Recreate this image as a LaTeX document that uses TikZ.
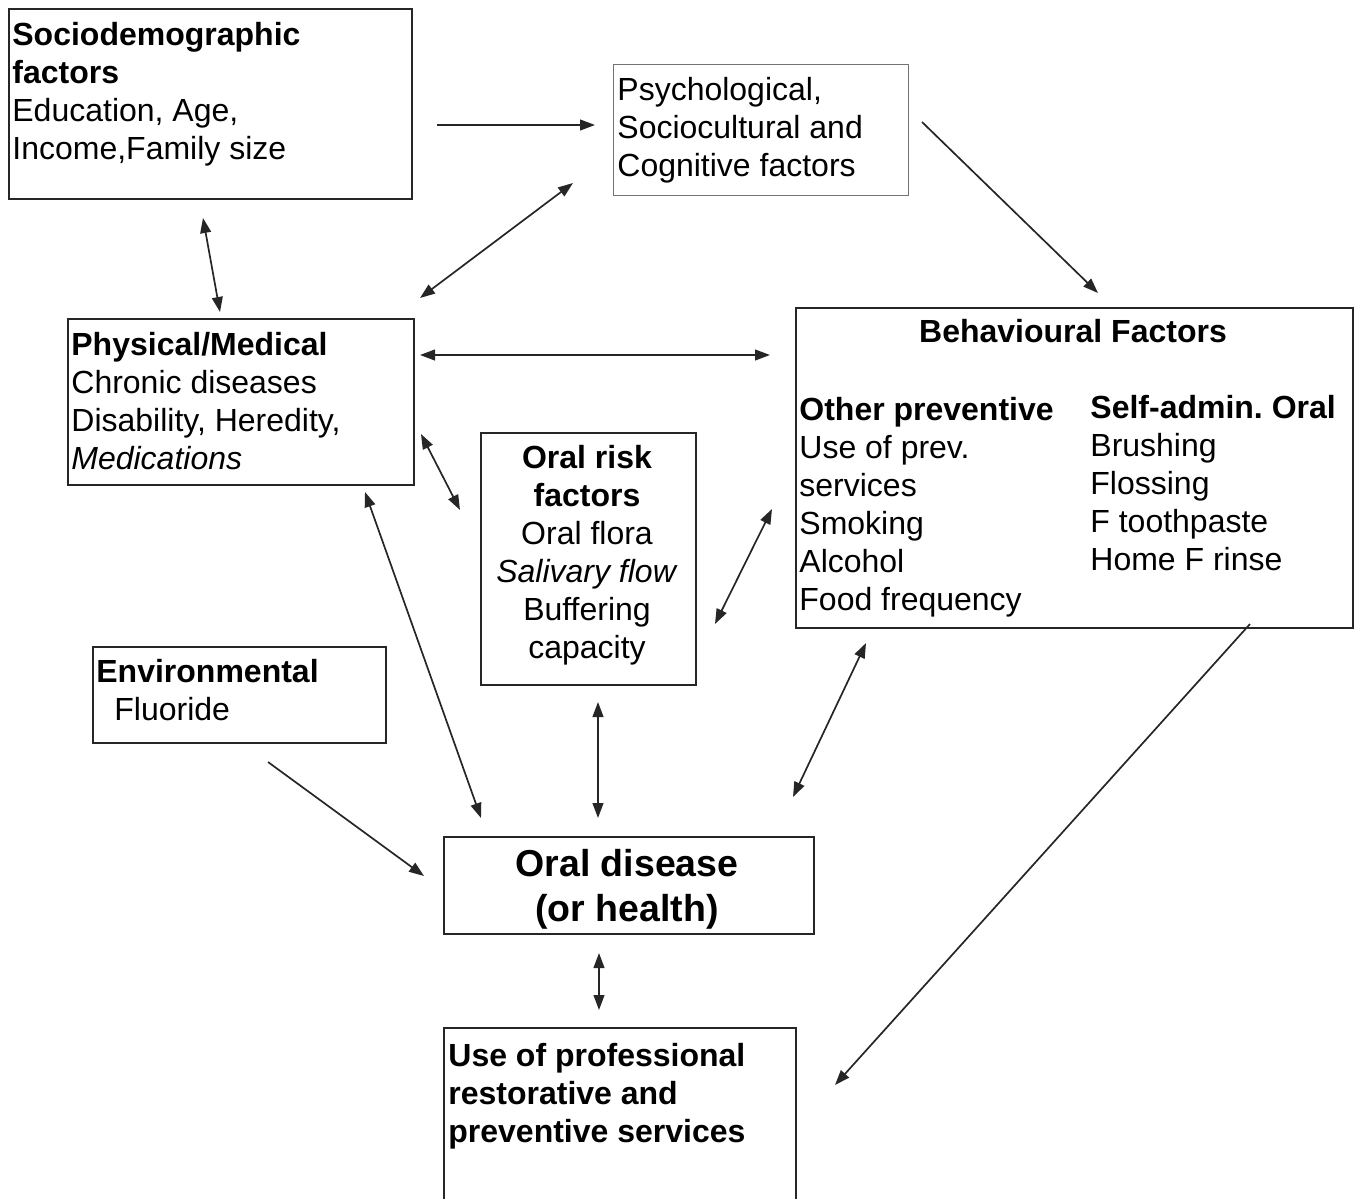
\documentclass[tikz,border=0pt]{standalone}
\usepackage{fontspec}
\setmainfont{Liberation Sans}
\usetikzlibrary{arrows.meta}
\tikzset{
  box/.style={draw=black!85, line width=1pt, inner sep=0pt, anchor=north west},
  lightbox/.style={draw=black!55, line width=0.6pt, inner sep=0pt, anchor=north west},
  txt/.style={inner sep=0pt, anchor=north west, align=left, font=\fontsize{16}{19}\selectfont},
  ctxt/.style={inner sep=0pt, anchor=north, align=center, font=\fontsize{16}{19}\selectfont},
  conn/.style={line width=0.85pt, black!85},
  one/.style={conn, -{Triangle[length=7.5pt,width=5.4pt]}},
  two/.style={conn, {Triangle[length=7.5pt,width=5.4pt]}-{Triangle[length=7.5pt,width=5.4pt]}},
}
\begin{document}
\begin{tikzpicture}[x=0.5pt,y=-0.5pt]
\useasboundingbox (0,0) rectangle (1355,1199);
% boxes
\node[box, minimum width=201.5pt, minimum height=95pt] (socio) at (8,8) {};
\node[lightbox, minimum width=147.5pt, minimum height=65.5pt] (psych) at (613,64) {};
\node[box, minimum width=173pt, minimum height=83pt] (phys) at (67,318) {};
\node[box, minimum width=278.5pt, minimum height=160pt] (behav) at (795,307) {};
\node[box, minimum width=107.5pt, minimum height=126pt] (risk) at (480,432) {};
\node[box, minimum width=146.5pt, minimum height=48pt] (env) at (92,646) {};
\node[box, minimum width=185pt, minimum height=48.5pt] (disease) at (443,836) {};
\node[inner sep=0pt, anchor=north west, minimum width=175.5pt, minimum height=90pt] (use) at (444,1028) {};
\draw[line width=1pt, black!85] (use.south west) -- (use.north west) -- (use.north east) -- (use.south east);
% texts
\node[txt] (sociot) at (12,18.4) {\strut\textbf{Sociodemographic}\\\strut\textbf{factors}\\\strut Education, Age,\\\strut Income,Family size};
\node[txt] (psycht) at (617,73.4) {\strut Psychological,\\\strut Sociocultural and\\\strut Cognitive factors};
\node[txt] (physt) at (71,328.4) {\strut\textbf{Physical/Medical}\\\strut Chronic diseases\\\strut Disability, Heredity,\\\strut\textit{Medications}};
\node[inner sep=0pt, anchor=base, font=\fontsize{16}{19}\selectfont\bfseries] (behavt) at (1073,342) {Behavioural Factors};
\node[txt] (behav1) at (799,393.4) {\strut\textbf{Other preventive}\\\strut Use of prev.\\\strut services\\\strut Smoking\\\strut Alcohol\\\strut Food frequency};
\node[txt] (behav2) at (1090,391.4) {\strut\textbf{Self-admin.\ Oral}\\\strut Brushing\\\strut Flossing\\\strut F toothpaste\\\strut Home F rinse};
\node[ctxt] (riskt) at (587,441.4) {\strut\textbf{Oral risk}\\\strut\textbf{factors}\\\strut Oral flora\\\strut\textit{Salivary flow}\\\strut Buffering\\\strut capacity};
\node[txt] (envt) at (96,655.4) {\strut\textbf{Environmental}\\\strut\hspace*{9pt}Fluoride};
\node[inner sep=0pt, anchor=north, align=center, font=\fontsize{18.75}{22.5}\selectfont\bfseries] (diseaset) at (627,844.5) {\strut Oral disease\\\strut (or health)};
\node[txt] (uset) at (448,1039.4) {\strut\textbf{Use of professional}\\\strut\textbf{restorative and}\\\strut\textbf{preventive services}};
% connector end points
\coordinate (a1s) at (437,125);  \coordinate (a1e) at (595,125);
\coordinate (a2s) at (573,183);  \coordinate (a2e) at (420,298);
\coordinate (a3s) at (922,122);  \coordinate (a3e) at (1098,293);
\coordinate (a4s) at (203,218);  \coordinate (a4e) at (220,312);
\coordinate (a5s) at (420,355);  \coordinate (a5e) at (770,355);
\coordinate (a6s) at (421,434);  \coordinate (a6e) at (460,510);
\coordinate (a7s) at (772,509);  \coordinate (a7e) at (715,624);
\coordinate (a8s) at (365,492);  \coordinate (a8e) at (481,818);
\coordinate (a9s) at (268,762);  \coordinate (a9e) at (424,876);
\coordinate (a10s) at (598,702); \coordinate (a10e) at (598,818);
\coordinate (a11s) at (866,643); \coordinate (a11e) at (793,797);
\coordinate (a12s) at (599,953); \coordinate (a12e) at (599,1010);
\coordinate (a13s) at (1250,624); \coordinate (a13e) at (835,1085);
% connectors
\draw[one] (a1s) -- (a1e);
\draw[two] (a2s) -- (a2e);
\draw[one] (a3s) -- (a3e);
\draw[two] (a4s) -- (a4e);
\draw[two] (a5s) -- (a5e);
\draw[two] (a6s) -- (a6e);
\draw[two] (a7s) -- (a7e);
\draw[two] (a8s) -- (a8e);
\draw[one] (a9s) -- (a9e);
\draw[two] (a10s) -- (a10e);
\draw[two] (a11s) -- (a11e);
\draw[two] (a12s) -- (a12e);
\draw[one] (a13s) -- (a13e);
\end{tikzpicture}
\end{document}
